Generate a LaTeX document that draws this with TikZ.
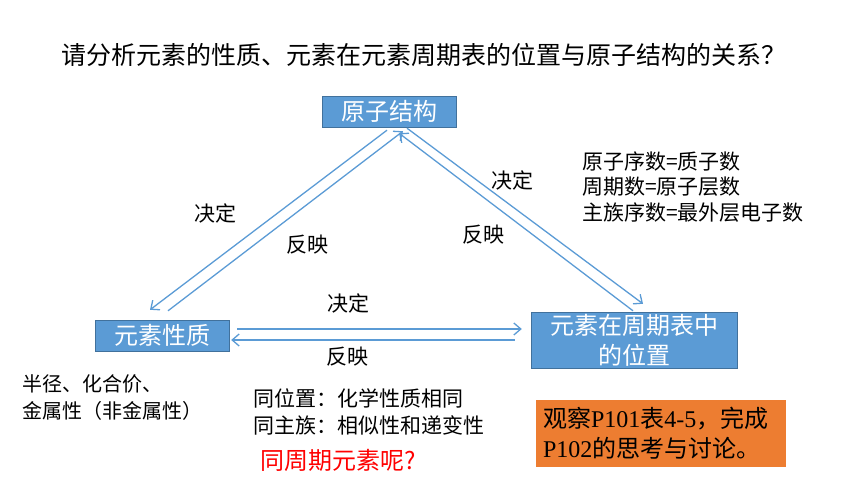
\documentclass[tikz,border=0pt]{standalone}
\usepackage{fontspec}
\setmainfont{Noto Sans CJK SC}
\newfontfamily\tmsfont{Liberation Serif}
\usepackage{tikz}
\usetikzlibrary{arrows.meta}
\definecolor{ppblue}{HTML}{5B9BD5}
\definecolor{ppedge}{HTML}{41719C}
\definecolor{pporange}{HTML}{ED7D31}
\newcommand{\fsz}[2]{\fontsize{#1}{#2}\selectfont}

\begin{document}
\begin{tikzpicture}[x=1pt, y=-1pt,
  topic/.style={draw=ppedge, fill=ppblue, text=white, font=\fsz{24}{30}, inner sep=0pt, align=center},
  link/.style={ppblue, line width=1.3pt, -{Straight Barb[length=7pt,width=12pt]}},
  lbl/.style={font=\fsz{21}{25.5}}]
  \useasboundingbox (0,0) rectangle (860,484);
  \node[font=\fsz{25}{30}] (ask) at (424,55) {请分析元素的性质、元素在元素周期表的位置与原子结构的关系？};
  \node[topic, minimum width=134pt, minimum height=31pt] (struct) at (389,111.5) {原子结构};
  \node[topic, minimum width=134pt, minimum height=31pt] (prop) at (162,335.5) {元素性质};
  \node[topic, minimum width=206pt, minimum height=56pt] (pos) at (634,340) {元素在周期表中\\的位置};
  \draw[link] ([shift={(-2,3)}]struct.south) -- ([shift={(-12,-10)}]prop.north);
  \draw[link] ([shift={(6,-9)}]prop.north) -- ([shift={(14,4)}]struct.south);
  \draw[link] ([shift={(18,1)}]struct.south) -- ([shift={(9,-8)}]pos.north);
  \draw[link] ([shift={(-1,-1)}]pos.north) -- ([shift={(10,6)}]struct.south);
  \draw[link] ([shift={(8,-6.5)}]prop.east) -- ([shift={(-9,-11)}]pos.west);
  \draw[link] ([shift={(-16,0)}]pos.west) -- ([shift={(2,4.5)}]prop.east);
  \node[lbl] (dec1) at (215,213) {决定};
  \node[lbl] (ref1) at (307,245) {反映};
  \node[lbl] (dec2) at (512,180) {决定};
  \node[lbl] (ref2) at (483,235) {反映};
  \node[lbl] (dec3) at (348,303) {决定};
  \node[lbl] (ref3) at (347,357) {反映};
  \node[lbl, anchor=west, align=left, inner sep=0pt] (facts) at (582,187)
    {原子序数=质子数\\周期数=原子层数\\主族序数=最外层电子数};
  \node[font=\fsz{20}{27}, anchor=west, align=left, inner sep=0pt] (traits) at (22,397.5)
    {半径、化合价、\\金属性（非金属性）};
  \node[lbl, font=\fsz{21}{27}, anchor=west, align=left, inner sep=0pt] (same) at (253,411.5)
    {同位置：化学性质相同\\同主族：相似性和递变性};
  \node[font=\fsz{24}{30}, text=red, anchor=west, inner sep=0pt] (quest) at (260,460) {同周期元素呢?};
  \node[fill=pporange, minimum width=250pt, minimum height=67pt, text width=236pt,
    inner sep=7pt, align=left, font=\fsz{24}{30}] (task) at (661,433.5)
    {观察{\tmsfont P101}表{\tmsfont 4-5}，完成\\{\tmsfont P102}的思考与讨论。};
\end{tikzpicture}
\end{document}
